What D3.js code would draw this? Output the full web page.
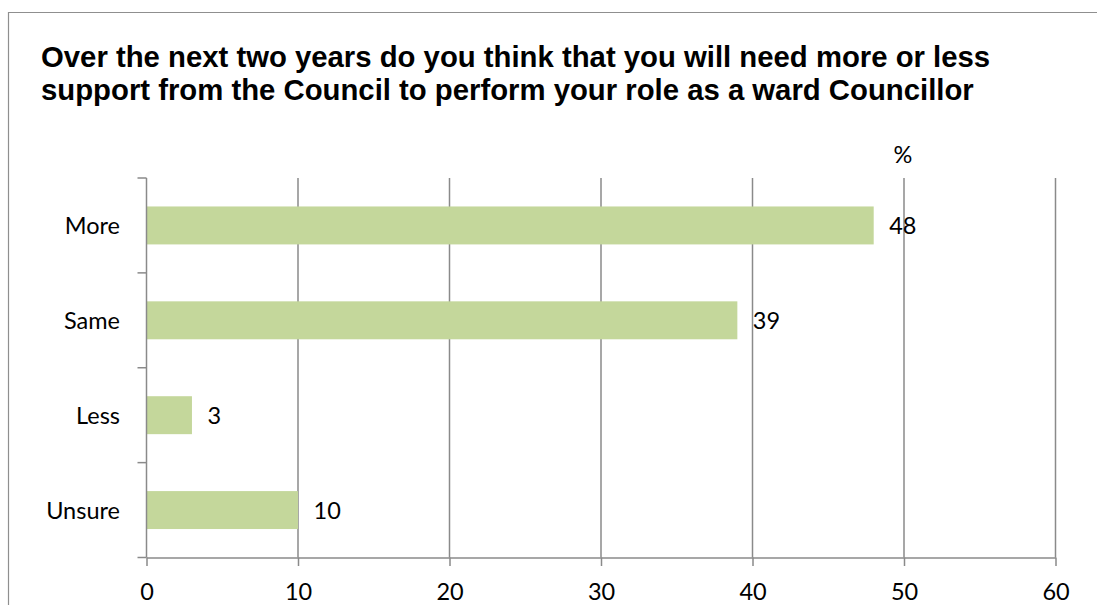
<!DOCTYPE html>
<html>
<head>
<meta charset="utf-8">
<script src="https://cdn.jsdelivr.net/npm/d3@7"></script>
<style>
  html, body { margin: 0; padding: 0; background: #fff; }
  svg { display: block; }
</style>
</head>
<body>
<svg id="chart" width="1097" height="605"></svg>
<script>
// Survey responses (% of councillors)
const categories = ["More", "Same", "Less", "Unsure"];
const values = [48, 39, 3, 10];
const xTicks = [0, 10, 20, 30, 40, 50, 60];
const titleLines = [
  "Over the next two years do you think that you will need more or less",
  "support from the Council to perform your role as a ward Councillor"
];
const unitLabel = "%";

const svg = d3.select("#chart");
const gridColor = "#8a8a8a";
const barColor = "#c4d79b";
const labelFont = "Lato, 'Open Sans', sans-serif";
const labelSize = 23.5;

// Outer chart frame
svg.append("path")
  .attr("d", "M8.5,610 V12.5 H1100")
  .attr("fill", "none")
  .attr("stroke", "#8f8f8f")
  .attr("stroke-width", 1.2);

// Title
const title = svg.append("text")
  .attr("font-family", "'Liberation Sans', Arial, sans-serif")
  .attr("font-weight", "bold")
  .attr("font-size", 29.3)
  .attr("fill", "#000");
titleLines.forEach((t, i) => {
  title.append("tspan").attr("x", 41).attr("y", 67 + i * 33).text(t);
});

// Scales
const x = d3.scaleLinear().domain([0, 60]).range([146.5, 1055.5]);
const y = d3.scaleBand().domain(categories).range([178, 557.5])
  .paddingInner(0.6).paddingOuter(0.3);

const [yTop, yBottom] = y.range();
const bandStep = y.step();

// Vertical gridlines
svg.append("g")
  .selectAll("line")
  .data(xTicks.filter(d => d > 0))
  .join("line")
  .attr("x1", d => x(d)).attr("x2", d => x(d))
  .attr("y1", yTop).attr("y2", yBottom)
  .attr("stroke", gridColor)
  .attr("stroke-width", 1.5);

// Bars
svg.append("g")
  .selectAll("rect")
  .data(categories.map((c, i) => ({ c, v: values[i] })))
  .join("rect")
  .attr("x", x(0))
  .attr("y", d => y(d.c))
  .attr("width", d => x(d.v) - x(0))
  .attr("height", y.bandwidth())
  .attr("fill", barColor);

// X axis
const xAxis = svg.append("g")
  .attr("transform", `translate(0,${yBottom})`)
  .call(d3.axisBottom(x).tickValues(xTicks).tickSize(8.5).tickSizeOuter(0).tickPadding(34));
xAxis.select(".domain").attr("stroke", gridColor).attr("stroke-width", 1.5);
xAxis.selectAll(".tick line").attr("stroke", gridColor).attr("stroke-width", 1.5);
xAxis.selectAll(".tick text")
  .attr("font-family", labelFont)
  .attr("font-size", labelSize)
  .attr("fill", "#000")
  .attr("dy", "0");

// Y axis line with ticks at category boundaries
svg.append("line")
  .attr("x1", x(0)).attr("x2", x(0))
  .attr("y1", yTop).attr("y2", yBottom)
  .attr("stroke", gridColor).attr("stroke-width", 1.5);
svg.append("g")
  .selectAll("line")
  .data(d3.range(categories.length + 1).map(i => yTop + i * bandStep))
  .join("line")
  .attr("x1", x(0) - 9).attr("x2", x(0))
  .attr("y1", d => d).attr("y2", d => d)
  .attr("stroke", gridColor).attr("stroke-width", 1.5);

// Category labels
svg.append("g")
  .selectAll("text")
  .data(categories)
  .join("text")
  .attr("x", 120)
  .attr("y", d => y(d) + y.bandwidth() / 2 + 8.5)
  .attr("text-anchor", "end")
  .attr("font-family", labelFont)
  .attr("font-size", labelSize)
  .attr("fill", "#000")
  .text(d => d);

// Value labels
svg.append("g")
  .selectAll("text")
  .data(categories.map((c, i) => ({ c, v: values[i] })))
  .join("text")
  .attr("x", d => x(d.v) + 15.5)
  .attr("y", d => y(d.c) + y.bandwidth() / 2 + 8.5)
  .attr("font-family", labelFont)
  .attr("font-size", labelSize)
  .attr("fill", "#000")
  .text(d => d.v);

// Unit label
svg.append("text")
  .attr("x", x(50) - 1)
  .attr("y", 163)
  .attr("text-anchor", "middle")
  .attr("font-family", labelFont)
  .attr("font-size", labelSize)
  .attr("fill", "#000")
  .text(unitLabel);
</script>
</body>
</html>
